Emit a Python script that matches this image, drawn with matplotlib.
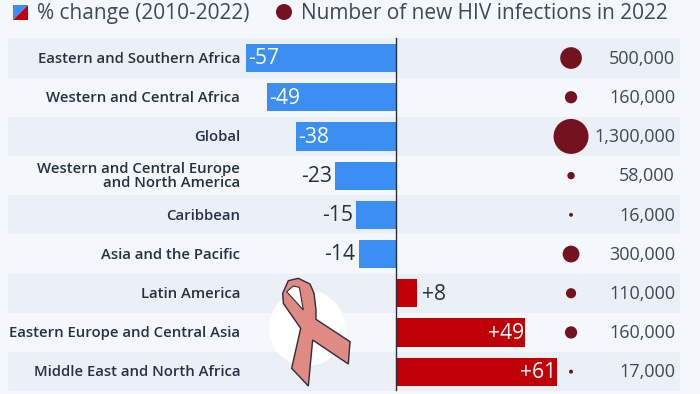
import matplotlib
import matplotlib.pyplot as plt
from matplotlib.patches import Circle, Polygon

matplotlib.use("Agg")
plt.rcParams["font.family"] = ["Open Sans", "DejaVu Sans"]

regions = [
    "Eastern and Southern Africa",
    "Western and Central Africa",
    "Global",
    "Western and Central Europe\nand North America",
    "Caribbean",
    "Asia and the Pacific",
    "Latin America",
    "Eastern Europe and Central Asia",
    "Middle East and North Africa",
]
change = [-57, -49, -38, -23, -15, -14, 8, 49, 61]
change_labels = ["-57", "-49", "-38", "-23", "-15", "-14", "+8", "+49", "+61"]
inside = [True, True, True, False, False, False, False, True, True]
infections = [500000, 160000, 1300000, 58000, 16000, 300000, 110000, 160000, 17000]

BG = "#f4f7fc"
BAND = "#ebeff6"
BLUE = "#3b8ff3"
RED = "#c00006"
MAROON = "#74121f"
DARK = "#263242"
GREY = "#3d4a59"

fig = plt.figure(figsize=(7, 3.94), dpi=100, facecolor=BG)
ax = fig.add_axes([0, 0, 1, 1])
ax.set_facecolor(BG)
# 2.64 px per percentage point, zero at px 396
ax.set_xlim(-150, 115.15)
ax.set_ylim(8.57, -1.48)
ax.axis("off")

for i in range(0, len(regions), 2):
    ax.barh(i, 254.6, left=-147, height=1.0, color=BAND, zorder=1)

colors = [BLUE if v < 0 else RED for v in change]
ax.barh(range(len(change)), change, height=0.72, color=colors, zorder=3)
ax.plot([0, 0], [-0.52, 8.48], color="#26303c", lw=1, zorder=5)

for i, name in enumerate(regions):
    ax.text(-59, i + 0.02, name, ha="right", va="center", fontsize=10.7, color=DARK,
            fontweight="semibold", linespacing=1.0, zorder=6)

for i, v in enumerate(change):
    if inside[i]:
        if v < 0:
            ax.text(v + 1, i + 0.02, change_labels[i], ha="left", va="center", fontsize=15.2, color="white", zorder=6)
        else:
            ax.text(v - 0.4, i + 0.02, change_labels[i], ha="right", va="center", fontsize=15.2, color="white", zorder=6)
    else:
        if v < 0:
            ax.text(v - 1.3, i + 0.02, change_labels[i], ha="right", va="center", fontsize=15.2, color=DARK, zorder=6)
        else:
            ax.text(v + 2, i + 0.02, change_labels[i], ha="left", va="center", fontsize=15.2, color=DARK, zorder=6)

sizes = [(2 * 0.485 * (n / 1000) ** 0.5 * 0.72) ** 2 for n in infections]
ax.scatter([66.3] * len(infections), range(len(infections)), s=sizes, color=MAROON,
           edgecolors="none", zorder=4)
for i, n in enumerate(infections):
    ax.text(105.7, i + 0.02, f"{n:,}", ha="right", va="center", fontsize=13, color=GREY, zorder=6)

# overlay in pixel coords for legend and ribbon
ov = fig.add_axes([0, 0, 1, 1], facecolor="none")
ov.set_xlim(0, 700)
ov.set_ylim(394, 0)
ov.axis("off")

ov.add_patch(Polygon([(13, 5), (28, 5), (13, 20)], color=BLUE, lw=0))
ov.add_patch(Polygon([(28, 5), (28, 20), (13, 20)], color=RED, lw=0))
ov.text(37, 13, "% change (2010-2022)", ha="left", va="center", fontsize=15, color=GREY)
ov.add_patch(Circle((284, 12), 8, color=MAROON, lw=0))
ov.text(301, 13, "Number of new HIV infections in 2022", ha="left", va="center", fontsize=15, color=GREY)

# ribbon
ov.add_patch(Circle((307, 328), 38, color="white", lw=0, zorder=7))


def rib(points):
    return [(240 + x / 3, 260 + y / 3) for x, y in points]


PINK = "#e08a84"
INK = "#2a2f3a"
ribbon = rib([(128, 100), (145, 62), (175, 55), (210, 72), (222, 100), (228, 150), (228, 178),
              (330, 245), (325, 312), (218, 240), (205, 378), (155, 325), (182, 205), (130, 130)])
hole = rib([(140, 95), (160, 78), (178, 82), (190, 150)])
ov.add_patch(Polygon(ribbon, closed=True, fc=PINK, ec=INK, lw=1.0, zorder=8))
ov.add_patch(Polygon(hole, closed=True, fc="white", ec=INK, lw=0.8, zorder=9))

fig.savefig("out.png", dpi=100, facecolor=BG)
